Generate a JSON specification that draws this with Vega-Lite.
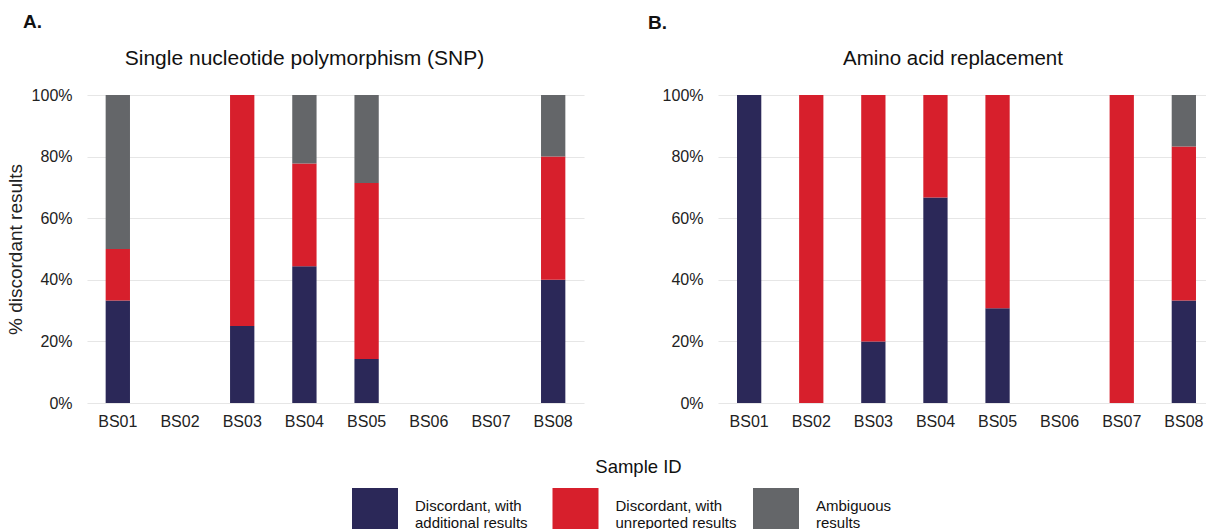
{
  "$schema": "https://vega.github.io/schema/vega-lite/v6.json",
  "padding": {"left": 6, "right": 0, "top": 13, "bottom": 0},
  "autosize": {"type": "pad"},
  "background": "white",
  "config": {
    "font": "Liberation Sans",
    "view": {"stroke": null},
    "axis": {"labelFont": "Liberation Sans", "labelFontSize": 16, "labelColor": "#222222", "titleFont": "Liberation Sans", "titleColor": "#222222", "domain": false, "ticks": false, "grid": false},
    "title": {"font": "Liberation Sans", "color": "#111111"},
    "legend": {"labelFont": "Liberation Sans", "titleFont": "Liberation Sans"}
  },
  "spacing": -34,
  "datasets": {
    "snp": [
      {"sample": "BS01", "category": "Discordant, with additional results", "ord": 1, "pct": 33.3},
      {"sample": "BS01", "category": "Discordant, with unreported results", "ord": 2, "pct": 16.7},
      {"sample": "BS01", "category": "Ambiguous results", "ord": 3, "pct": 50},
      {"sample": "BS03", "category": "Discordant, with additional results", "ord": 1, "pct": 25},
      {"sample": "BS03", "category": "Discordant, with unreported results", "ord": 2, "pct": 75},
      {"sample": "BS04", "category": "Discordant, with additional results", "ord": 1, "pct": 44.4},
      {"sample": "BS04", "category": "Discordant, with unreported results", "ord": 2, "pct": 33.4},
      {"sample": "BS04", "category": "Ambiguous results", "ord": 3, "pct": 22.2},
      {"sample": "BS05", "category": "Discordant, with additional results", "ord": 1, "pct": 14.3},
      {"sample": "BS05", "category": "Discordant, with unreported results", "ord": 2, "pct": 57.1},
      {"sample": "BS05", "category": "Ambiguous results", "ord": 3, "pct": 28.6},
      {"sample": "BS08", "category": "Discordant, with additional results", "ord": 1, "pct": 40},
      {"sample": "BS08", "category": "Discordant, with unreported results", "ord": 2, "pct": 40},
      {"sample": "BS08", "category": "Ambiguous results", "ord": 3, "pct": 20}
    ],
    "aa": [
      {"sample": "BS01", "category": "Discordant, with additional results", "ord": 1, "pct": 100},
      {"sample": "BS02", "category": "Discordant, with unreported results", "ord": 2, "pct": 100},
      {"sample": "BS03", "category": "Discordant, with additional results", "ord": 1, "pct": 20},
      {"sample": "BS03", "category": "Discordant, with unreported results", "ord": 2, "pct": 80},
      {"sample": "BS04", "category": "Discordant, with additional results", "ord": 1, "pct": 66.7},
      {"sample": "BS04", "category": "Discordant, with unreported results", "ord": 2, "pct": 33.3},
      {"sample": "BS05", "category": "Discordant, with additional results", "ord": 1, "pct": 30.8},
      {"sample": "BS05", "category": "Discordant, with unreported results", "ord": 2, "pct": 69.2},
      {"sample": "BS07", "category": "Discordant, with unreported results", "ord": 2, "pct": 100},
      {"sample": "BS08", "category": "Discordant, with additional results", "ord": 1, "pct": 33.3},
      {"sample": "BS08", "category": "Discordant, with unreported results", "ord": 2, "pct": 50},
      {"sample": "BS08", "category": "Ambiguous results", "ord": 3, "pct": 16.7}
    ]
  },
  "resolve": {"scale": {"color": "shared"}},
  "hconcat": [
    {
      "title": {"text": "A.", "anchor": "start", "frame": "bounds", "fontSize": 19, "fontWeight": "bold", "offset": 16, "dx": 17},
      "vconcat": [
        {
          "title": {"text": "Single nucleotide polymorphism (SNP)", "anchor": "middle", "frame": "group", "fontSize": 21, "fontWeight": "normal", "offset": 18, "dx": -31},
          "width": 497,
          "height": 308,
          "data": {"name": "snp"},
          "mark": {"type": "bar"},
          "encoding": {
            "x": {"field": "sample", "type": "nominal", "scale": {"domain": ["BS01", "BS02", "BS03", "BS04", "BS05", "BS06", "BS07", "BS08"], "paddingInner": 0.609, "paddingOuter": 0.3},
                  "axis": {"title": "Sample ID", "titleX": 551, "titleY": 69, "titleAnchor": "middle", "titleAlign": "center", "titleBaseline": "alphabetic", "titleFontSize": 18.5, "titleFontWeight": "normal", "titleColor": "#111111", "labelAngle": 0, "labelPadding": 10}},
            "y": {"field": "pct", "type": "quantitative", "stack": "zero", "scale": {"domain": [0, 100]},
                  "axis": {"values": [0, 20, 40, 60, 80, 100], "labelExpr": "datum.value + '%'", "grid": true, "gridColor": "#e6e6e6", "gridWidth": 1.2, "labelPadding": 15, "title": "% discordant results", "titleFontSize": 19, "titleFontWeight": "normal", "titlePadding": 6}},
            "color": {"field": "category", "type": "nominal",
                      "scale": {"domain": ["Discordant, with additional results", "Discordant, with unreported results", "Ambiguous results"], "range": ["#2b2858", "#d71f2c", "#646669"]},
                      "legend": {"orient": "none", "legendX": 265, "legendY": 393, "direction": "horizontal", "columns": 3, "gridAlign": "all", "columnPadding": 16.5,
                                 "title": null,
                                 "symbolType": "square", "symbolSize": 2116, "symbolStrokeWidth": 0, "symbolOpacity": 1, "labelOffset": 17, "labelFontSize": 15, "labelColor": "#111111", "labelLimit": 200, "labelBaseline": "alphabetic",
                                 "labelExpr": "datum.label == 'Ambiguous results' ? ['Ambiguous', 'results'] : datum.label == 'Discordant, with additional results' ? ['Discordant, with', 'additional results'] : ['Discordant, with', 'unreported results']"}},
            "order": {"field": "ord", "type": "quantitative"}
          }
        }
      ]
    },
    {
      "title": {"text": "B.", "anchor": "start", "frame": "bounds", "fontSize": 19, "fontWeight": "bold", "offset": 16, "dx": -14},
      "vconcat": [
        {
          "title": {"text": "Amino acid replacement", "anchor": "middle", "frame": "group", "fontSize": 20.5, "fontWeight": "normal", "offset": 18, "dx": -9},
          "width": 488,
          "height": 308,
          "data": {"name": "aa"},
          "mark": {"type": "bar"},
          "encoding": {
            "x": {"field": "sample", "type": "nominal", "scale": {"domain": ["BS01", "BS02", "BS03", "BS04", "BS05", "BS06", "BS07", "BS08"], "paddingInner": 0.609, "paddingOuter": 0.2337, "align": 0.655},
                  "axis": {"title": null, "labelAngle": 0, "labelPadding": 10}},
            "y": {"field": "pct", "type": "quantitative", "stack": "zero", "scale": {"domain": [0, 100]},
                  "axis": {"values": [0, 20, 40, 60, 80, 100], "labelExpr": "datum.value + '%'", "grid": true, "gridColor": "#e6e6e6", "gridWidth": 1.2, "labelPadding": 15, "title": null}},
            "color": {"field": "category", "type": "nominal"},
            "order": {"field": "ord", "type": "quantitative"}
          }
        }
      ]
    }
  ]
}
